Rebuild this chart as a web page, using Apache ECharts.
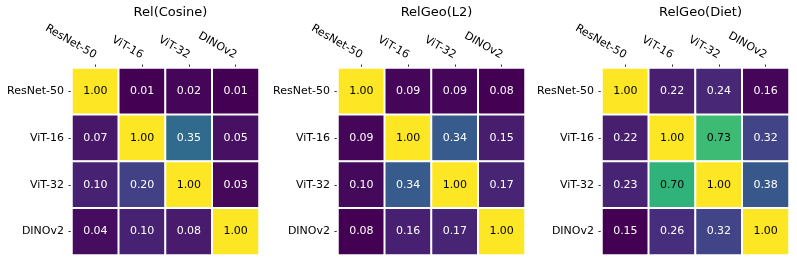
<!DOCTYPE html>
<html>
<head>
<meta charset="utf-8">
<script src="https://cdn.jsdelivr.net/npm/echarts@6/dist/echarts.min.js"></script>
<style>html,body{margin:0;padding:0;background:#fff;}#c{width:797px;height:263px;}</style>
</head>
<body>
<div id="c"></div>
<script>
var models = ['ResNet-50', 'ViT-16', 'ViT-32', 'DINOv2'];
var titles = ['Rel(Cosine)', 'RelGeo(L2)', 'RelGeo(Diet)'];
var relCosine = [
  [1.00, 0.01, 0.02, 0.01],
  [0.07, 1.00, 0.35, 0.05],
  [0.10, 0.20, 1.00, 0.03],
  [0.04, 0.10, 0.08, 1.00]
];
var relGeoL2 = [
  [1.00, 0.09, 0.09, 0.08],
  [0.09, 1.00, 0.34, 0.15],
  [0.10, 0.34, 1.00, 0.17],
  [0.08, 0.16, 0.17, 1.00]
];
var relGeoDiet = [
  [1.00, 0.22, 0.24, 0.16],
  [0.22, 1.00, 0.73, 0.32],
  [0.23, 0.70, 1.00, 0.38],
  [0.15, 0.26, 0.32, 1.00]
];
var matrices = [relCosine, relGeoL2, relGeoDiet];

var viridis = ['#440154','#48186a','#472d7b','#424086','#3b528b','#33638d','#2c728e','#26828e',
  '#21918c','#1fa088','#28ae80','#3fbc73','#5ec962','#84d44b','#addc30','#d8e219','#fde725'];

var FONT = 'DejaVu Sans';
var lefts = [72, 338, 602];
var size = 187;
var top0 = 68;

var option = {
  backgroundColor: '#ffffff',
  animation: false,
  title: [], grid: [], xAxis: [], yAxis: [], visualMap: [], series: []
};

matrices.forEach(function (m, k) {
  var flat = [];
  m.forEach(function (r) { r.forEach(function (v) { flat.push(v); }); });
  var vmin = Math.min.apply(null, flat), vmax = Math.max.apply(null, flat);
  var data = [];
  for (var i = 0; i < 4; i++) {
    for (var j = 0; j < 4; j++) {
      var v = m[i][j];
      var t = (v - vmin) / (vmax - vmin);
      data.push({
        value: [j, i, v],
        label: { color: t > 0.55 ? '#000000' : '#ffffff' }
      });
    }
  }
  option.title.push({
    text: titles[k],
    left: lefts[k] + size / 2,
    top: 1,
    textAlign: 'center',
    textStyle: { fontFamily: FONT, fontSize: 13, fontWeight: 'normal', color: '#000' }
  });
  option.grid.push({ left: lefts[k], top: top0, width: size, height: size });
  option.xAxis.push({
    type: 'category', gridIndex: k, data: models, position: 'top',
    axisLine: { show: false },
    axisTick: { show: true, alignWithLabel: true, length: 3.5, lineStyle: { color: '#333', width: 1 } },
    axisLabel: { rotate: 30, margin: 12, fontFamily: FONT, fontSize: 11, color: '#000', interval: 0 },
    splitLine: { show: false }
  });
  option.yAxis.push({
    type: 'category', gridIndex: k, data: models, inverse: true,
    axisLine: { show: false },
    axisTick: { show: true, alignWithLabel: true, length: 3.5, lineStyle: { color: '#333', width: 1 } },
    axisLabel: { margin: 8, fontFamily: FONT, fontSize: 11, color: '#000', interval: 0 },
    splitLine: { show: false }
  });
  option.visualMap.push({
    type: 'continuous', show: false, seriesIndex: k, dimension: 2,
    min: vmin, max: vmax, inRange: { color: viridis }
  });
  option.series.push({
    type: 'heatmap', xAxisIndex: k, yAxisIndex: k, data: data,
    itemStyle: { borderColor: '#ffffff', borderWidth: 2 },
    label: {
      show: true, fontFamily: FONT, fontSize: 11,
      formatter: function (p) { return p.value[2].toFixed(2); }
    },
    emphasis: { disabled: true }
  });
});

var chart = echarts.init(document.getElementById('c'), null, { renderer: 'canvas' });
chart.setOption(option);
</script>
</body>
</html>
